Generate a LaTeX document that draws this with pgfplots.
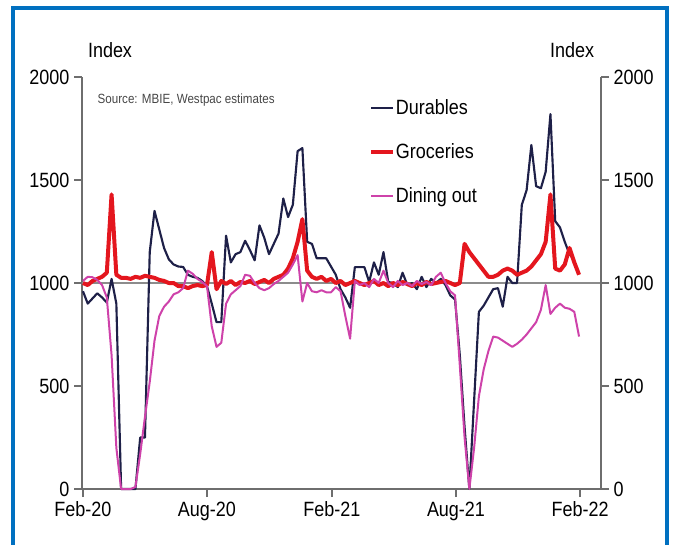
\documentclass[border=0pt]{standalone}
\usepackage{fontspec}
\setmainfont{Liberation Sans}[FakeStretch=0.87]
\usepackage{pgfplots}
\usepackage{pgfplotstable}
\pgfplotsset{compat=1.18}

\definecolor{frameblue}{RGB}{0,112,192}
\definecolor{durables}{RGB}{30,32,72}
\definecolor{groceries}{RGB}{228,22,30}
\definecolor{dining}{RGB}{206,66,170}
\definecolor{axisgrey}{RGB}{110,110,110}
\definecolor{refgrey}{RGB}{140,140,140}
\definecolor{srcgrey}{RGB}{70,70,70}

% weekly spending indices, week 0 = start of Feb-20
\pgfplotstableread{
w v
0 960
1 900
2 925
3 950
4 930
5 905
6 1020
7 900
8 0
9 0
10 0
11 0
12 250
13 250
14 1150
15 1350
16 1260
17 1170
18 1115
19 1090
20 1080
21 1078
22 1040
23 1030
24 1025
25 1010
26 985
27 900
28 810
29 810
30 1230
31 1100
32 1140
33 1150
34 1205
35 1160
36 1110
37 1280
38 1220
39 1140
40 1190
41 1240
42 1410
43 1320
44 1380
45 1640
46 1655
47 1200
48 1190
49 1120
50 1120
51 1120
52 1080
53 1040
54 970
55 930
56 880
57 1077
58 1077
59 1077
60 1005
61 1100
62 1040
63 1150
64 1005
65 1000
66 980
67 1050
68 990
69 1000
70 970
71 1030
72 980
73 1020
74 1000
75 1020
76 990
77 940
78 920
79 650
80 300
81 0
82 430
83 860
84 890
85 930
86 970
87 975
88 885
89 1030
90 1000
91 1000
92 1380
93 1450
94 1670
95 1470
96 1460
97 1540
98 1820
99 1300
100 1270
101 1200
102 1140
103 1110
}\durablestable

\pgfplotstableread{
w v
0 1000
1 990
2 1010
3 1020
4 1030
5 1050
6 1430
7 1040
8 1025
9 1025
10 1020
11 1030
12 1025
13 1035
14 1030
15 1025
16 1015
17 1010
18 1000
19 1000
20 985
21 985
22 975
23 985
24 990
25 985
26 990
27 1150
28 970
29 1010
30 995
31 1010
32 990
33 1005
34 1000
35 1010
36 995
37 1005
38 1015
39 1000
40 1020
41 1030
42 1040
43 1070
44 1120
45 1200
46 1310
47 1060
48 1030
49 1020
50 1030
51 1010
52 1020
53 1000
54 1010
55 990
56 1000
57 1010
58 1000
59 990
60 1000
61 1010
62 990
63 1000
64 985
65 1000
66 990
67 1005
68 995
69 985
70 1000
71 990
72 1005
73 995
74 1000
75 1005
76 1010
77 1000
78 990
79 1000
80 1190
81 1150
82 1120
83 1090
84 1060
85 1030
86 1030
87 1040
88 1060
89 1070
90 1060
91 1040
92 1050
93 1060
94 1080
95 1110
96 1140
97 1200
98 1430
99 1070
100 1060
101 1090
102 1170
103 1100
104 1040
}\groceriestable

\pgfplotstableread{
w v
0 1010
1 1030
2 1028
3 1015
4 990
5 930
6 650
7 200
8 0
9 0
10 0
11 10
12 170
13 350
14 520
15 720
16 840
17 885
18 910
19 945
20 955
21 975
22 1060
23 1045
24 1020
25 1005
26 985
27 790
28 690
29 710
30 900
31 945
32 965
33 985
34 1040
35 1035
36 1000
37 975
38 965
39 975
40 995
41 1010
42 1030
43 1050
44 1090
45 1135
46 910
47 1000
48 960
49 955
50 965
51 955
52 955
53 980
54 960
55 840
56 730
57 1010
58 990
59 1000
60 980
61 1020
62 1000
63 1060
64 1000
65 980
66 1010
67 990
68 1000
69 985
70 1010
71 995
72 1005
73 990
74 1030
75 1050
76 1000
77 960
78 940
79 600
80 250
81 0
82 200
83 450
84 580
85 670
86 740
87 735
88 720
89 705
90 690
91 705
92 725
93 750
94 780
95 810
96 870
97 990
98 850
99 880
100 900
101 880
102 875
103 860
104 740
}\diningtable

\pgfplotsset{
  every tick label/.append style={font=\fontsize{15.5}{18}\selectfont, text=black},
  /pgf/number format/assume math mode=true,
  /pgf/number format/1000 sep={},
}

\begin{document}
\begin{tikzpicture}[x=0.75pt,y=0.75pt]
\useasboundingbox (0,0) rectangle (673,544);
\begin{scope}
  \clip (0,0) rectangle (673,544);
  \draw[frameblue, line width=2.4pt] (13,-20) rectangle (667,536);
\end{scope}

\begin{axis}[
  at={(61.5pt,41.25pt)}, anchor=south west,
  scale only axis, width=389.25pt, height=309pt,
  xmin=-0.2, xmax=108.6, ymin=0, ymax=2000,
  axis x line*=bottom, axis y line*=left,
  axis line style={axisgrey, line width=0.9pt},
  every tick/.style={axisgrey, line width=0.9pt},
  tick align=outside, major tick length=6pt,
  xtick={0,26,52.2,78.2,104.2},
  xticklabels={Feb-20,Aug-20,Feb-21,Aug-21,Feb-22},
  ytick={0,500,1000,1500,2000},
  clip=false,
  legend style={at={(0.553,0.948)}, anchor=north west, draw=none, fill=none,
    inner sep=0pt, row sep=19.5pt,
    font=\fontsize{15.5}{18}\selectfont,
    nodes={inner sep=0.5pt}},
  legend cell align=left,
  legend image code/.code={\draw[#1] (0pt,0pt) -- (16.5pt,0pt);},
]
\addplot[refgrey, line width=1.8pt, forget plot] coordinates {(-0.2,1000) (108.6,1000)};
\addplot[durables, line width=1.6pt, line join=round] table[x=w, y=v] {\durablestable};
\addlegendentry{Durables}
\addplot[groceries, line width=3pt, line join=round] table[x=w, y=v] {\groceriestable};
\addlegendentry{Groceries}
\addplot[dining, line width=1.5pt, line join=round] table[x=w, y=v] {\diningtable};
\addlegendentry{Dining out}
\end{axis}

\begin{axis}[
  at={(61.5pt,41.25pt)}, anchor=south west,
  scale only axis, width=389.25pt, height=309pt,
  xmin=-0.2, xmax=108.6, ymin=0, ymax=2000,
  axis x line=none, axis y line*=right,
  axis line style={axisgrey, line width=0.9pt},
  every tick/.style={axisgrey, line width=0.9pt},
  tick align=outside, major tick length=6pt,
  ytick={0,500,1000,1500,2000},
]
\end{axis}

\node[font=\fontsize{15.5}{18}\selectfont] at (110,494) {Index};
\node[font=\fontsize{15.5}{18}\selectfont] at (572,494) {Index};
\node[anchor=west, font=\fontsize{10}{12}\selectfont, text=srcgrey] at (93,444) {Source: MBIE, Westpac estimates};
\end{tikzpicture}
\end{document}
